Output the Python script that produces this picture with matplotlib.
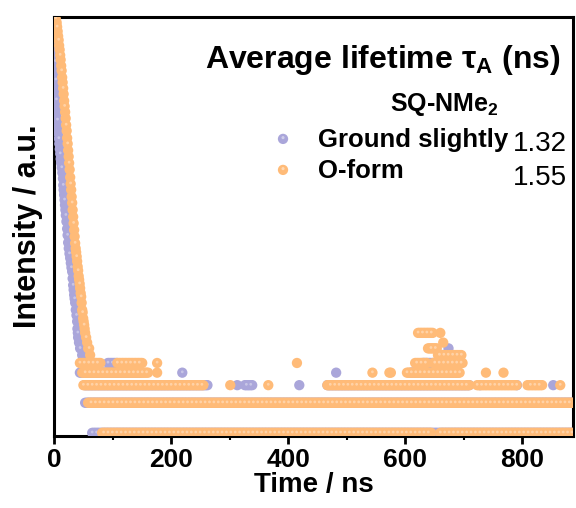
import numpy as np
import matplotlib
matplotlib.use('Agg')
import matplotlib.pyplot as plt
from matplotlib.ticker import MultipleLocator

plt.rcParams['font.family'] = ['Liberation Sans', 'DejaVu Sans']
plt.rcParams['mathtext.fontset'] = 'custom'
plt.rcParams['mathtext.rm'] = 'Liberation Sans'
plt.rcParams['mathtext.bf'] = 'Liberation Sans:bold'
plt.rcParams['mathtext.it'] = 'Liberation Sans:italic'

# decay part (time in ns, photon counts)
t_ground = [0.9, 1.2, 1.4, 1.6, 1.8, 2.0, 2.2, 2.4, 2.7, 3.0, 3.3, 3.6, 4.0, 4.5, 5.1,
            5.8, 6.5, 7.2, 8.0, 8.8, 9.6, 10.4, 11.2, 12.0, 13.0, 14.0, 15.0, 15.6, 16.2,
            17.0, 17.8, 18.5, 19.2, 20.0, 21.0, 22.2, 23.0, 23.9, 25.0, 26.2, 27.4, 28.5,
            29.6, 30.8, 31.6, 32.5, 33.3, 34.2, 35.0, 35.9, 37.0, 38.2, 39.3, 39.8, 40.5,
            41.0, 42.5, 44.4, 46.0, 47.9]
c_ground = [13500, 11500, 9500, 8000, 7000, 6000, 5200, 4500, 3900, 3400, 2900, 2500, 2150,
            1850, 1600, 1350, 1150, 1000, 880, 780, 690, 620, 550, 500, 450, 400, 350, 300,
            270, 240, 214, 190, 170, 150, 130, 110, 95, 80, 70, 62, 56, 50, 45, 41, 35, 30,
            27, 24, 22, 20, 17, 15, 13, 11, 10, 9, 8, 7, 7, 6]

t_oform = [2.5, 3.4, 4.3, 5.1, 6.0, 6.8, 7.7, 8.5, 9.4, 10.3, 11.1, 12.0, 12.8, 13.7, 14.5,
           15.4, 16.2, 17.1, 17.9, 18.8, 19.7, 20.5, 21.4, 22.2, 23.1, 23.9, 24.8, 25.6,
           26.5, 27.4, 28.2, 29.1, 29.9, 30.8, 31.6, 32.5, 33.3, 34.2, 35.0, 35.9, 36.8,
           37.6, 38.5, 39.3, 40.2, 41.0, 41.9, 42.7, 43.6, 44.4, 45.3, 46.2, 47.0, 47.9,
           48.7, 49.6, 50.4, 51.3, 52.1, 53.0, 54.7, 56.4, 58.1, 59.8, 61.5]
c_oform = [14000, 13200, 12600, 11500, 10400, 9300, 8500, 7500, 6800, 6000, 5400, 4700, 4200,
           3600, 3200, 2800, 2450, 2100, 1850, 1620, 1400, 1200, 1050, 890, 780, 670, 580,
           500, 430, 360, 310, 270, 230, 200, 170, 145, 125, 107, 92, 79, 70, 64, 58, 52, 46,
           42, 37, 34, 31, 28, 25, 23, 20, 17, 16, 14, 13, 12, 11, 10, 9, 8, 7, 7, 6]

# background tail: (start ns, end ns, counts) runs of channels
runs_ground = [(65, 887, 1), (53, 887, 2),
               (52, 262, 3), (313, 313, 3), (326, 340, 3), (419, 419, 3), (467, 711, 3),
               (728, 728, 3), (791, 791, 3), (853, 853, 3),
               (44, 150, 4), (219, 219, 4), (482, 482, 4), (610, 690, 4),
               (46, 70, 5), (92, 108, 5), (630, 680, 5),
               (660, 680, 6), (674, 674, 7)]
runs_oform = [(82, 645, 1), (660, 887, 1), (58, 887, 2),
              (50, 255, 3), (301, 301, 3), (366, 366, 3), (467, 711, 3), (723, 791, 3),
              (809, 836, 3), (865, 865, 3),
              (48, 161, 4), (176, 176, 4), (544, 544, 4), (573, 576, 4), (603, 694, 4),
              (738, 738, 4), (768, 768, 4),
              (44, 79, 5), (108, 152, 5), (176, 176, 5), (415, 415, 5), (617, 639, 5),
              (648, 699, 5),
              (656, 697, 6), (639, 655, 7), (665, 665, 8), (622, 648, 10), (660, 660, 10)]

labels = ['Ground slightly', 'O-form']
lifetimes = ['1.32', '1.55']
colors = ['#aaa6da', '#ffbb78']


def expand(t, c, runs):
    tt = list(t)
    cc = list(c)
    for t0, t1, n in runs:
        pts = np.arange(t0, t1 + 0.01, 2.5)
        tt += list(pts)
        cc += [n] * len(pts)
    return np.array(tt), np.array(cc)


fig = plt.figure(figsize=(5.76, 5.08), dpi=100)
ax = fig.add_axes([0.094, 0.142, 0.901, 0.8245])

series = [expand(t_ground, c_ground, runs_ground), expand(t_oform, c_oform, runs_oform)]
for (tt, cc), col in zip(series, colors):
    ax.scatter(tt, cc, s=55, color=col, edgecolors='none', zorder=3)
    ax.scatter(tt[::3], cc[::3] * 1.02, s=4, color='white', alpha=0.35, edgecolors='none',
               zorder=3)

ax.set_yscale('log')
ax.set_xlim(0, 887)
ax.set_ylim(0.933, 14450)

ax.xaxis.set_major_locator(MultipleLocator(200))
ax.xaxis.set_minor_locator(MultipleLocator(100))
ax.tick_params(axis='x', which='major', direction='out', length=6, width=2, labelsize=19,
               pad=3)
ax.tick_params(axis='x', which='minor', direction='out', length=3, width=1.5)
ax.tick_params(axis='y', which='both', left=False, labelleft=False)
for lab in ax.get_xticklabels():
    lab.set_fontweight('bold')
for sp in ax.spines.values():
    sp.set_linewidth(2.2)

ax.set_xlabel('Time / ns', fontsize=20, fontweight='bold', labelpad=0)
ax.set_ylabel('Intensity / a.u.', fontsize=22, fontweight='bold', labelpad=8)

ax.text(0.291, 0.897, r'Average lifetime $\mathbf{\tau_A}$ (ns)', transform=ax.transAxes,
        fontsize=23, fontweight='bold', ha='left', va='center')
ax.text(0.647, 0.790, r'SQ-NMe$_\mathbf{2}$', transform=ax.transAxes,
        fontsize=18, fontweight='bold', ha='left', va='center')
ypos = [0.706, 0.632]
for i in range(2):
    ax.scatter([0.441], [ypos[i] + 0.003], s=55, color=colors[i], edgecolors='none',
               transform=ax.transAxes, zorder=4)
    ax.scatter([0.441], [ypos[i] + 0.006], s=5, color='white', alpha=0.45,
               edgecolors='none', transform=ax.transAxes, zorder=4)
    ax.text(0.509, ypos[i], labels[i], transform=ax.transAxes, fontsize=18.5,
            fontweight='bold', ha='left', va='center')
ax.text(0.988, 0.697, lifetimes[0], transform=ax.transAxes, fontsize=20,
        ha='right', va='center')
ax.text(0.988, 0.616, lifetimes[1], transform=ax.transAxes, fontsize=20,
        ha='right', va='center')

fig.savefig('out.png', dpi=100)
